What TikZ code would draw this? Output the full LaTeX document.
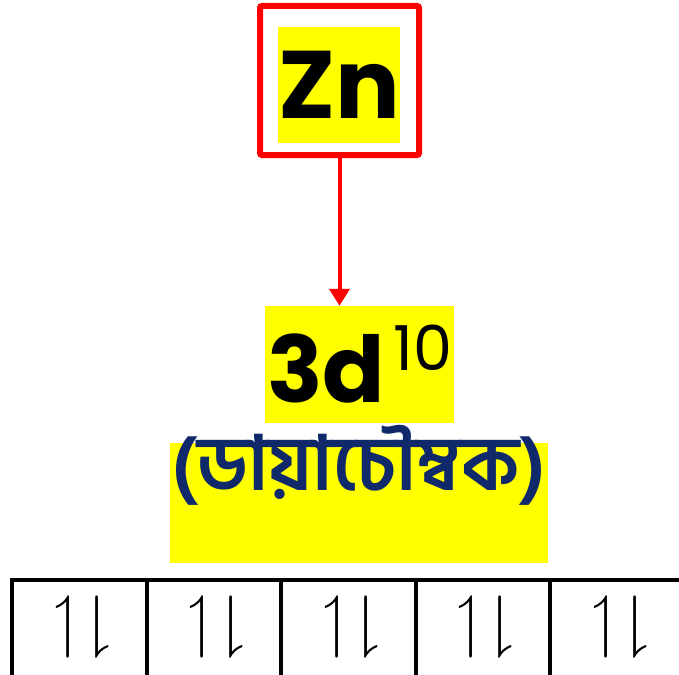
\documentclass[tikz,border=0pt]{standalone}
\usepackage{amssymb}
\usepackage{fontspec}
\setmainfont{Poppins}
\newfontfamily\bnfont[Script=Bengali]{Hind Siliguri}
\usetikzlibrary{arrows.meta,positioning,calc}
\definecolor{boxRed}{HTML}{FF0000}
\definecolor{hlYellow}{HTML}{FFFF00}
\definecolor{bnNavy}{HTML}{10296B}

\begin{document}
\begin{tikzpicture}[x=1pt,y=-1pt,
    hl/.style={fill=hlYellow,inner sep=0pt},
    cell/.style={draw=black,line width=4pt,minimum width=134.5pt,minimum height=110pt,inner sep=0pt,anchor=north west}]
  \useasboundingbox (0,0) rectangle (679,674);
  \clip (0,0) rectangle (679,674);
  % element
  \node[hl,minimum width=118pt,minimum height=116pt,font=\fontsize{96}{96}\selectfont\bfseries] (zn) at (339,85) {Zn};
  \node[draw=boxRed,line width=6pt,rounded corners=2pt,minimum width=159pt,minimum height=149pt] (frame) at (339.5,80.5) {};
  % configuration
  \node[hl,minimum width=189pt,minimum height=117pt,font=\fontsize{92}{92}\selectfont\bfseries] (d3) at (359.5,364.5)
    {3d\kern8pt\raisebox{32pt}{\fontsize{62}{62}\selectfont\mdseries 10}};
  \node[hl,minimum width=378pt,minimum height=120pt] (bnbg) at (359,503) {};
  \node[inner sep=0pt,text=bnNavy,font=\bnfont\bfseries\fontsize{76}{76}\selectfont] (bn) at (359,465) {(ডায়াচৌম্বক)};
  \draw[boxRed,line width=4pt,-{Triangle[length=17pt,width=20pt]}] (frame.south) -- (frame.south |- d3.north);
  % orbital boxes
  \foreach \i in {1,...,5}{
    \node[cell] (cell\i) at ({10+134.5*(\i-1)},578) {};
    \node[font=\fontsize{70}{70}\selectfont,inner sep=0pt] (spin\i) at ($(cell\i.north)+(3,49)$)
      {$\upharpoonleft\downharpoonright$};
  }
\end{tikzpicture}
\end{document}
